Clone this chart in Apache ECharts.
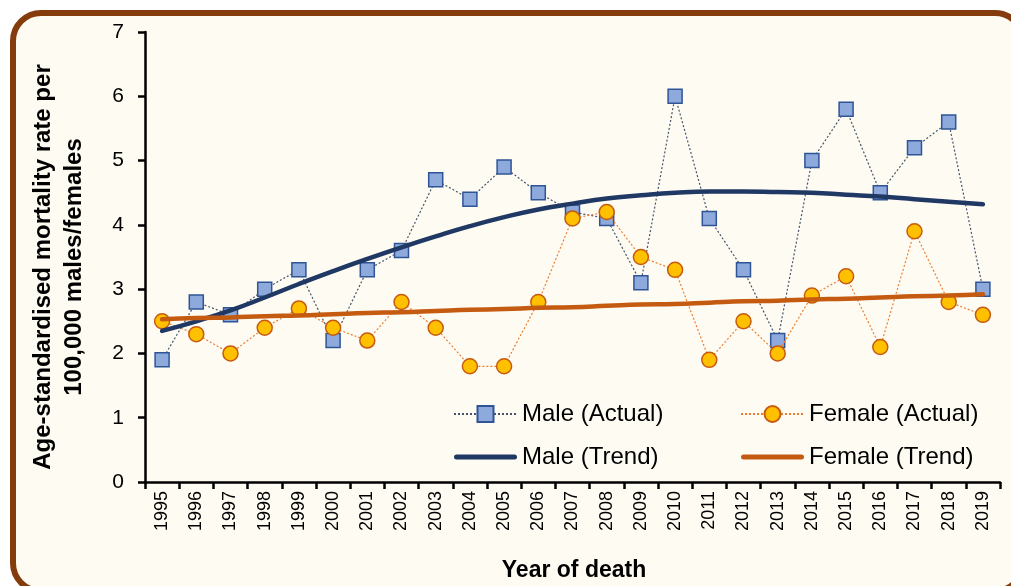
<!DOCTYPE html>
<html>
<head>
<meta charset="utf-8">
<script src="https://cdn.jsdelivr.net/npm/echarts@6/dist/echarts.min.js"></script>
<style>
html,body{margin:0;padding:0;background:#ffffff;}
#chart{width:1011px;height:586px;}
</style>
</head>
<body>
<div id="chart"></div>
<script>
const years = ['1995','1996','1997','1998','1999','2000','2001','2002','2003','2004','2005','2006','2007','2008','2009','2010','2011','2012','2013','2014','2015','2016','2017','2018','2019'];
const maleActual = [1.9,2.8,2.6,3.0,3.3,2.2,3.3,3.6,4.7,4.4,4.9,4.5,4.2,4.1,3.1,6.0,4.1,3.3,2.2,5.0,5.8,4.5,5.2,5.6,3.0];
const femaleActual = [2.5,2.3,2.0,2.4,2.7,2.4,2.2,2.8,2.4,1.8,1.8,2.8,4.1,4.2,3.5,3.3,1.9,2.5,2.0,2.9,3.2,2.1,3.9,2.8,2.6];
const maleTrend = [2.35,2.50,2.67,2.87,3.08,3.28,3.47,3.65,3.82,3.98,4.12,4.24,4.33,4.41,4.46,4.50,4.52,4.52,4.51,4.50,4.47,4.44,4.40,4.36,4.32];
const femaleTrend = [2.53,2.55,2.56,2.58,2.59,2.61,2.63,2.64,2.66,2.68,2.69,2.71,2.72,2.74,2.76,2.77,2.79,2.81,2.82,2.84,2.85,2.87,2.89,2.90,2.92];
const yTicks = [0,1,2,3,4,5,6,7];
const yTitle = 'Age-standardised mortality rate per\n100,000 males/females';
const xTitle = 'Year of death';

const FONT = 'Liberation Sans';
const trendIcon = 'path://M2.5,0 L60.5,0 A2.5,2.5 0 0 1 60.5,5 L2.5,5 A2.5,2.5 0 0 1 2.5,0 Z';
const legendText = { fontFamily: FONT, fontSize: 24, color: '#000' };

const chart = echarts.init(document.getElementById('chart'));
chart.setOption({
  animation: false,
  backgroundColor: '#ffffff',
  textStyle: { fontFamily: FONT, color: '#000' },
  graphic: [{
    type: 'rect', z: -10, silent: true,
    shape: { x: 13, y: 13, width: 1010, height: 578, r: 28 },
    style: { fill: '#FEFBF2', stroke: '#843C0C', lineWidth: 6 }
  }, {
    type: 'text', silent: true, x: 59, y: 267, rotation: Math.PI / 2,
    style: {
      text: yTitle, align: 'center', verticalAlign: 'middle',
      fontFamily: FONT, fontSize: 24, fontWeight: 'bold', lineHeight: 31, fill: '#000'
    }
  }, {
    type: 'text', silent: true, x: 574, y: 571,
    style: {
      text: xTitle, align: 'center', verticalAlign: 'middle',
      fontFamily: FONT, fontSize: 23, fontWeight: 'bold', fill: '#000'
    }
  }],
  grid: { left: 145, right: 11, top: 32, bottom: 104, containLabel: false },
  legend: [{
    orient: 'vertical', left: 448, top: 397, itemGap: 19,
    itemWidth: 63, itemHeight: 20,
    textStyle: legendText,
    data: ['Male (Actual)', { name: 'Male (Trend)', icon: trendIcon }]
  }, {
    orient: 'vertical', left: 735, top: 397, itemGap: 19,
    itemWidth: 63, itemHeight: 20,
    textStyle: legendText,
    data: ['Female (Actual)', { name: 'Female (Trend)', icon: trendIcon }]
  }],
  xAxis: {
    type: 'category', data: years, boundaryGap: true,
    axisLine: { lineStyle: { color: '#000', width: 2.5 } },
    axisTick: { show: true, length: 7, lineStyle: { color: '#000', width: 2.5 } },
    axisLabel: { rotate: 90, fontSize: 18, color: '#000', margin: 9, fontFamily: FONT },
    splitLine: { show: false }
  },
  yAxis: {
    type: 'value', min: yTicks[0], max: yTicks[yTicks.length-1], interval: 1,
    axisLine: { show: true, lineStyle: { color: '#000', width: 2.5 } },
    axisTick: { show: true, length: 7, lineStyle: { color: '#000', width: 2.5 } },
    axisLabel: { fontSize: 21, color: '#000', margin: 21, fontFamily: FONT },
    splitLine: { show: false }
  },
  series: [{
    name: 'Male (Actual)', type: 'line', data: maleActual,
    symbol: 'rect', symbolSize: 14,
    lineStyle: { color: '#44546A', width: 1.2, type: [2, 2] },
    itemStyle: { color: '#8EA9DB', borderColor: '#2F5597', borderWidth: 1.5 },
    z: 2
  }, {
    name: 'Female (Actual)', type: 'line', data: femaleActual,
    symbol: 'circle', symbolSize: 15,
    lineStyle: { color: '#ED7D31', width: 1.2, type: [2, 2] },
    itemStyle: { color: '#FFC000', borderColor: '#C55A11', borderWidth: 1.5 },
    z: 3
  }, {
    name: 'Male (Trend)', type: 'line', data: maleTrend, smooth: true,
    symbol: 'none', showSymbol: false,
    lineStyle: { color: '#203864', width: 4.5, cap: 'round' },
    itemStyle: { color: '#203864' },
    z: 4
  }, {
    name: 'Female (Trend)', type: 'line', data: femaleTrend, smooth: true,
    symbol: 'none', showSymbol: false,
    lineStyle: { color: '#C55A11', width: 4.5, cap: 'round' },
    itemStyle: { color: '#C55A11' },
    z: 5
  }]
});
</script>
</body>
</html>
